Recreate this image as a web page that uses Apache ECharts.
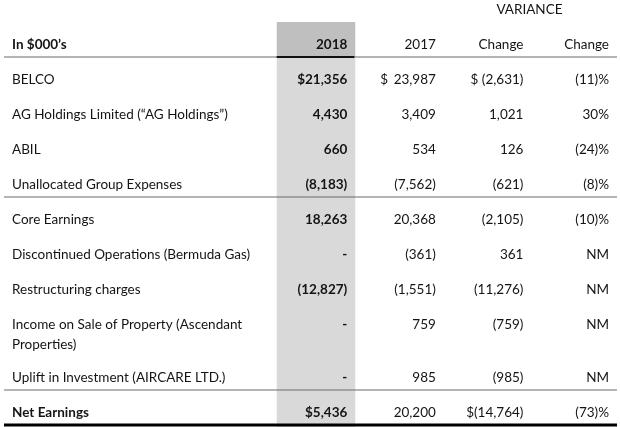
<!DOCTYPE html>
<html>
<head>
<meta charset="utf-8">
<script src="https://cdn.jsdelivr.net/npm/echarts@6/dist/echarts.min.js"></script>
<style>
html, body { margin: 0; padding: 0; background: #fff; }
#container { width: 620px; height: 427px; }
</style>
</head>
<body>
<div id="container"></div>
<script>
var groupHeader = 'VARIANCE';
var columnHeaders = ['In $000’s', '2018', '2017', 'Change', 'Change'];
var rowLabels = [
	'BELCO',
	'AG Holdings Limited (“AG Holdings”)',
	'ABIL',
	'Unallocated Group Expenses',
	'Core Earnings',
	'Discontinued Operations (Bermuda Gas)',
	'Restructuring charges',
	'Income on Sale of Property (Ascendant\nProperties)',
	'Uplift in Investment (AIRCARE LTD.)',
	'Net Earnings'
];
var values2018 = [21356, 4430, 660, -8183, 18263, null, -12827, null, null, 5436];
var values2017 = [23987, 3409, 534, -7562, 20368, -361, -1551, 759, 985, 20200];
var varianceAmount = [-2631, 1021, 126, -621, -2105, 361, -11276, -759, -985, -14764];
var variancePct = [-11, 30, -24, -8, -10, null, null, null, null, -73];

// dollar signs as printed in the report
var dollar2018 = { 0: '$', 9: '$' };
var dollar2017 = { 0: '$' };
var dollarVariance = { 0: '$ ', 9: '$' };

var boldRows = [9];
var rulesAfterRows = [3, 8];

var FONT = 'Lato, "Open Sans", sans-serif';
var TEXT = '#141414';
var LINE_H = 20;

function num(v){
	if (v === null) return '-';
	var s = Math.abs(v).toString().replace(/\B(?=(\d{3})+(?!\d))/g, ',');
	return v < 0 ? '(' + s + ')' : s;
}
function pct(v){
	if (v === null) return 'NM';
	return v < 0 ? '(' + Math.abs(v) + ')%' : v + '%';
}

// row layout in "line" units
var superH = 1.1, rowH = 1.75, extraLine = 0.9, textOff = 1.12;
var headerTop = superH;
var headerBottom = headerTop + rowH;
var rowTops = [];
var y = headerBottom;
for (var i = 0; i < rowLabels.length; i++){
	rowTops.push(y);
	y += rowH + (rowLabels[i].split('\n').length - 1) * extraLine;
}
var tableBottom = y;
var yMax = tableBottom + 0.1;

// cells: [x anchor, y of first line], text, align, bold, px offset
var cells = [];
function cell(x, yc, text, align, bold, dx){
	cells.push({ value: [x, yc], text: text, align: align, bold: bold, dx: dx });
}
cell(6, superH / 2 - 0.05, groupHeader, 'center', false, 0);
var hy = headerTop + textOff;
cell(0, hy, columnHeaders[0], 'left', true, 8);
cell(4, hy, columnHeaders[1], 'right', true, -7);
cell(5, hy, columnHeaders[2], 'right', false, -6);
cell(6, hy, columnHeaders[3], 'right', false, -6);
cell(7, hy, columnHeaders[4], 'right', false, -8);
for (var r = 0; r < rowLabels.length; r++){
	var ry = rowTops[r] + textOff;
	var b = boldRows.indexOf(r) >= 0;
	cell(0, ry, rowLabels[r], 'left', b, 8);
	cell(4, ry, (dollar2018[r] || '') + num(values2018[r]), 'right', true, -7);
	if (dollar2017[r]) cell(4, ry, dollar2017[r], 'left', false, 26);
	cell(5, ry, num(values2017[r]), 'right', false, -6);
	cell(6, ry, (dollarVariance[r] || '') + num(varianceAmount[r]), 'right', false, -6);
	cell(7, ry, pct(variancePct[r]), 'right', false, -8);
}

// shading of the current year column
var shades = [
	{ value: [3, headerTop, headerBottom], color: '#bfbfbf' },
	{ value: [3, headerBottom, yMax], color: '#d9d9d9' }
];

// horizontal rules: [y, x0, x1]
var rules = [
	{ value: [headerBottom, 0, 7], color: '#6b6b6b', w: 1 },
	{ value: [headerBottom, 3, 4], color: '#111', w: 2 }
];
rulesAfterRows.forEach(function(r){
	rules.push({ value: [rowTops[r + 1], 0, 7], color: '#6b6b6b', w: 1 });
});
rules.push({ value: [tableBottom, 0, 7], color: '#000', w: 3 });

var chart = echarts.init(document.getElementById('container'));
chart.setOption({
	animation: false,
	grid: { left: 4, right: 3, top: 0, bottom: 0 },
	xAxis: { type: 'value', min: 0, max: 7, show: false },
	yAxis: { type: 'value', min: 0, max: yMax, inverse: true, show: false },
	series: [
		{
			type: 'custom',
			data: shades,
			renderItem: function(params, api){
				var p1 = api.coord([api.value(0), api.value(1)]);
				var p2 = api.coord([api.value(0) + 1, api.value(2)]);
				return {
					type: 'rect',
					shape: { x: p1[0] + 10, y: p1[1], width: p2[0] - p1[0] - 9, height: p2[1] - p1[1] },
					style: { fill: shades[params.dataIndex].color }
				};
			}
		},
		{
			type: 'custom',
			data: rules,
			renderItem: function(params, api){
				var rule = rules[params.dataIndex];
				var a = api.coord([api.value(1), api.value(0)]);
				var c = api.coord([api.value(2), api.value(0)]);
				var x0 = rule.w === 2 ? a[0] + 10 : a[0];
				return {
					type: 'line',
					shape: { x1: x0, y1: a[1], x2: c[0], y2: c[1] },
					style: { stroke: rule.color, lineWidth: rule.w }
				};
			}
		},
		{
			type: 'custom',
			data: cells,
			renderItem: function(params, api){
				var c = cells[params.dataIndex];
				var p = api.coord([api.value(0), api.value(1)]);
				var lines = c.text.split('\n').length;
				return {
					type: 'text',
					x: p[0] + c.dx,
					y: p[1] + (lines - 1) * LINE_H / 2,
					style: {
						text: c.text,
						fill: TEXT,
						font: (c.bold ? 'bold ' : '') + '13.5px ' + FONT,
						align: c.align,
						verticalAlign: 'middle',
						lineHeight: LINE_H
					}
				};
			}
		}
	]
});
</script>
</body>
</html>
